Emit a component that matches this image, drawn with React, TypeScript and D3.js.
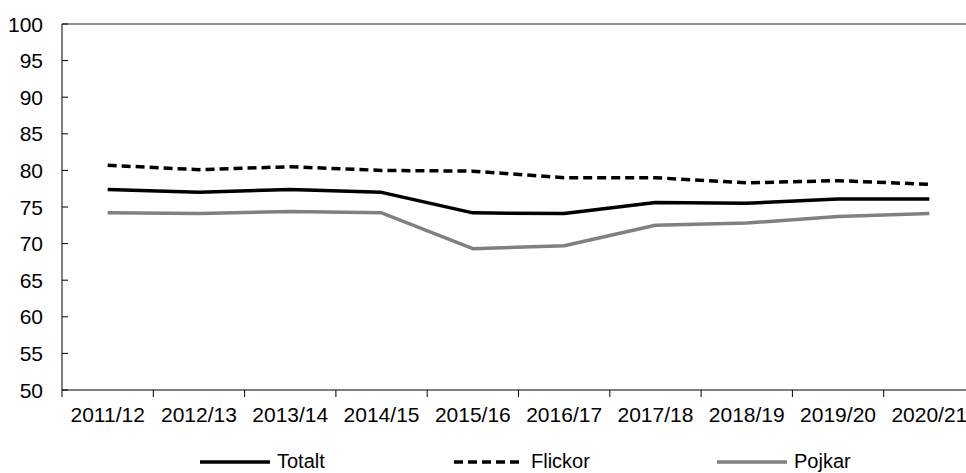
import React from 'react';
import * as d3 from 'd3';

const seasons = ['2011/12', '2012/13', '2013/14', '2014/15', '2015/16', '2016/17', '2017/18', '2018/19', '2019/20', '2020/21'];
const totalt = [77.4, 77.0, 77.4, 77.0, 74.2, 74.1, 75.6, 75.5, 76.1, 76.1];
const flickor = [80.7, 80.1, 80.5, 80.0, 79.9, 79.0, 79.0, 78.3, 78.6, 78.1];
const pojkar = [74.2, 74.1, 74.4, 74.2, 69.3, 69.7, 72.5, 72.8, 73.7, 74.1];
const yTicks = [50, 55, 60, 65, 70, 75, 80, 85, 90, 95, 100];

const width = 966;
const height = 473;
const margin = { left: 62, top: 24, bottom: 83 };
const bandW = 91.3;

const font = '"Liberation Sans", Arial, sans-serif';

export default function App() {
  const x = d3.scaleBand<string>()
    .domain(seasons)
    .range([margin.left, margin.left + bandW * seasons.length]);
  const y = d3.scaleLinear().domain([50, 100]).range([height - margin.bottom, margin.top]);

  const line = d3.line<number>()
    .x((_, i) => (x(seasons[i]) as number) + x.bandwidth() / 2)
    .y(d => y(d));

  const series = [
    { name: 'Totalt', values: totalt, color: '#000', dash: undefined, w: 3.5, lx: 200 },
    { name: 'Flickor', values: flickor, color: '#000', dash: '9,5', w: 3.5, lx: 454 },
    { name: 'Pojkar', values: pojkar, color: '#808080', dash: undefined, w: 3.5, lx: 717 },
  ];

  const x0 = margin.left;
  const x1 = width + 20;
  const yBottom = y(50);

  return (
    <svg width={width} height={height} style={{ position: 'absolute', left: 0, top: 0, background: '#fff' }}
      fontFamily={font}>
      {/* top border at 100 */}
      <line x1={x0} x2={x1} y1={y(100)} y2={y(100)} stroke="#222" strokeWidth={1} />
      {/* y axis */}
      <line x1={x0} x2={x0} y1={y(100)} y2={yBottom} stroke="#000" strokeWidth={1} />
      {yTicks.map(t => (
        <g key={t}>
          <line x1={x0} x2={x0 + 6} y1={y(t)} y2={y(t)} stroke="#000" strokeWidth={1} />
          <text x={43} y={y(t)} dy="0.36em" textAnchor="end" fontSize={21} fill="#000">{t}</text>
        </g>
      ))}
      {/* x axis */}
      <line x1={x0} x2={x1} y1={yBottom} y2={yBottom} stroke="#000" strokeWidth={1} />
      {seasons.map(s => (
        <g key={s}>
          <line x1={x(s) as number} x2={x(s) as number} y1={yBottom} y2={yBottom + 7} stroke="#000" strokeWidth={1} />
          <text x={(x(s) as number) + x.bandwidth() / 2} y={422} textAnchor="middle" fontSize={21} fill="#000">{s}</text>
        </g>
      ))}
      {/* lines */}
      {series.map(s => (
        <path key={s.name} d={line(s.values) || ''} fill="none" stroke={s.color}
          strokeWidth={s.w} strokeDasharray={s.dash} strokeLinejoin="round" />
      ))}
      {/* legend */}
      {series.map(s => (
        <g key={'lg' + s.name}>
          <line x1={s.lx} x2={s.lx + 70} y1={462} y2={462} stroke={s.color}
            strokeWidth={s.w} strokeDasharray={s.dash} />
          <text x={s.lx + 77} y={468} fontSize={20} fill="#000">{s.name}</text>
        </g>
      ))}
    </svg>
  );
}
